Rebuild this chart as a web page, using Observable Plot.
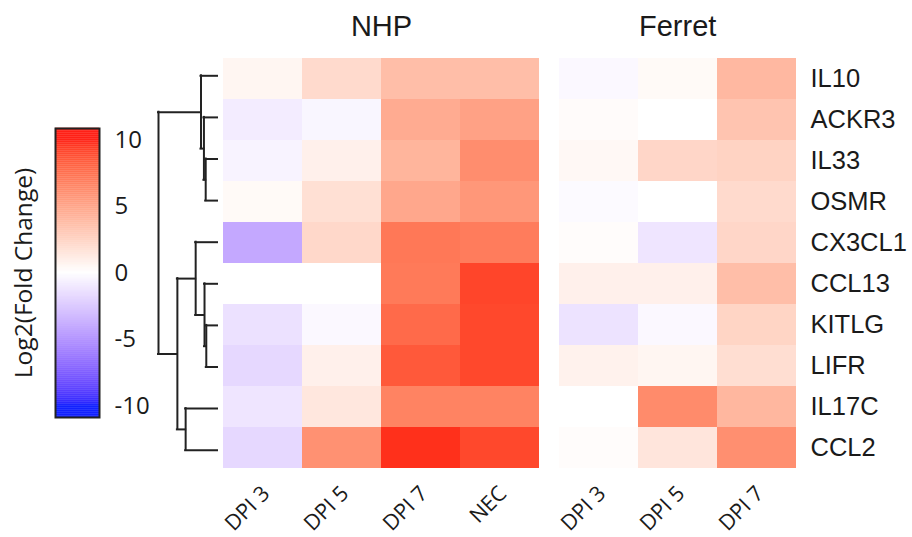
<!DOCTYPE html>
<html>
<head>
<meta charset="utf-8">
<script src="https://cdn.jsdelivr.net/npm/d3@7"></script>
<script src="https://cdn.jsdelivr.net/npm/@observablehq/plot@0.6"></script>
<style>
  html, body { margin: 0; padding: 0; background: #ffffff; }
  #chart { position: relative; width: 912px; height: 537px; background: #ffffff; overflow: hidden; }
  #chart > svg { position: absolute; left: 0; top: 0; }
</style>
</head>
<body>
<div id="chart"></div>
<script>
// ---- data ----
const genes = ["IL10","ACKR3","IL33","OSMR","CX3CL1","CCL13","KITLG","LIFR","IL17C","CCL2"];
const nhpCols = ["DPI 3","DPI 5","DPI 7","NEC"];
const ferretCols = ["DPI 3","DPI 5","DPI 7"];

// log2 fold change per column (rows in genes order)
const nhpDPI3 = [0.5, -0.8, -0.5, 0.3, -3.8, 0.0, -1.3, -1.7, -1.1, -1.7];
const nhpDPI5 = [2.0, -0.4, 0.8, 1.7, 2.1, 0.0, -0.3, 0.8, 1.3, 5.8];
const nhpDPI7 = [3.5, 4.5, 4.0, 4.7, 7.0, 6.9, 7.6, 8.3, 6.5, 9.6];
const nhpNEC  = [3.5, 5.0, 6.0, 5.5, 6.8, 9.0, 8.9, 8.9, 6.5, 8.9];

const ferretDPI3 = [-0.3, 0.2, 0.4, -0.2, 0.15, 0.8, -1.2, 0.7, 0.0, 0.15];
const ferretDPI5 = [0.3, 0.0, 2.2, 0.0, -1.1, 0.8, -0.3, 0.5, 6.1, 1.4];
const ferretDPI7 = [3.8, 3.2, 2.4, 2.0, 2.2, 3.5, 2.3, 1.8, 3.9, 5.9];

// dendrogram merges (clustering heights, root = 1)
const mergeIds    = ["m1","m2","m3","m4","m5","m6","m7","m8","root"];
const mergeLeft   = ["IL33","ACKR3","IL10","KITLG","CCL13","CX3CL1","IL17C","m6","m3"];
const mergeRight  = ["OSMR","m1","m2","LIFR","m4","m5","CCL2","m7","m8"];
const mergeHeight = [0.20, 0.23, 0.28, 0.19, 0.22, 0.37, 0.54, 0.68, 1.0];

const legendTicks = [-10, -5, 0, 5, 10];

// ---- shared settings ----
const W = 912, H = 537;
const gridTop = 54.5, gridBottom = 470.5;
const ink = "#1a1a1a";
const colorOpts = {
  type: "linear",
  domain: [-10, 0, 10],
  range: ["#0a1aff", "#ffffff", "#ff1a10"],
  interpolate: "lab",
  clamp: true
};
const baseStyle = { background: "transparent", fontFamily: "Liberation Sans, Arial, sans-serif", color: ink };

function tidy(cols, columns) {
  const out = [];
  cols.forEach((c, j) => genes.forEach((g, i) => out.push({ col: c, gene: g, v: columns[j][i] })));
  return out;
}

function panel(cols, columns, left, right, title, showLabels) {
  return Plot.plot({
    width: W, height: H,
    marginLeft: left, marginRight: W - right,
    marginTop: gridTop, marginBottom: H - gridBottom,
    style: baseStyle,
    x: { domain: cols, padding: 0, axis: null },
    y: { domain: genes, padding: 0, axis: null },
    color: colorOpts,
    marks: [
      Plot.cell(tidy(cols, columns), { x: "col", y: "gene", fill: "v", inset: 0 }),
      // column labels, rotated
      Plot.text(cols, { x: d => d, text: d => d, frameAnchor: "bottom", dx: 3, dy: 19, rotate: -45,
                        textAnchor: "end", lineAnchor: "middle", fontSize: 21.5,
                        fontFamily: "Open Sans", fill: ink }),
      // gene labels on the right
      showLabels ? Plot.text(genes, { y: d => d, text: d => d, frameAnchor: "right", dx: 14,
                        textAnchor: "start", lineAnchor: "middle", fontSize: 25.5, fill: ink }) : null,
      Plot.text([title], { text: d => d, frameAnchor: "top", dy: -28, lineAnchor: "middle",
                        textAnchor: "middle", fontSize: 29, fill: ink })
    ]
  });
}

const chart = document.getElementById("chart");

// NHP heatmap
chart.append(panel(nhpCols, [nhpDPI3, nhpDPI5, nhpDPI7, nhpNEC], 222.5, 539.5, "NHP", false));
// Ferret heatmap
chart.append(panel(ferretCols, [ferretDPI3, ferretDPI5, ferretDPI7], 558.3, 796, "Ferret", true));

// dendrogram
const pos = {};
genes.forEach((g, i) => { pos[g] = { y: i, h: 0 }; });
const vLinks = [], hLinks = [];
mergeIds.forEach((id, k) => {
  const a = pos[mergeLeft[k]], b = pos[mergeRight[k]], h = mergeHeight[k];
  vLinks.push({ x: h, y1: a.y, y2: b.y });
  hLinks.push({ y: a.y, x1: h, x2: a.h });
  hLinks.push({ y: b.y, x1: h, x2: b.h });
  pos[id] = { y: (a.y + b.y) / 2, h };
});
chart.append(Plot.plot({
  width: W, height: H,
  marginLeft: 158, marginRight: W - 217,
  marginTop: gridTop, marginBottom: H - gridBottom,
  style: baseStyle,
  x: { domain: [1, 0], axis: null },
  y: { domain: [-0.5, genes.length - 0.5], reverse: true, axis: null },
  marks: [
    Plot.ruleX(vLinks, { x: "x", y1: "y1", y2: "y2", stroke: "#222", strokeWidth: 2, strokeLinecap: "square" }),
    Plot.ruleY(hLinks, { y: "y", x1: "x1", x2: "x2", stroke: "#222", strokeWidth: 2, strokeLinecap: "square" })
  ]
}));

// colour legend
const step = 0.05;
const grad = d3.range(-10.85, 10.85, step);
chart.append(Plot.plot({
  width: W, height: H,
  marginLeft: 55, marginRight: W - 99,
  marginTop: 128, marginBottom: H - 417,
  style: baseStyle,
  x: { domain: [0, 1], axis: null },
  y: { domain: [-10.85, 10.85], axis: null },
  color: colorOpts,
  marks: [
    Plot.rect(grad, { x1: 0, x2: 1, y1: d => d, y2: d => d + step + 0.02, fill: d => d }),
    Plot.frame({ stroke: "#222", strokeWidth: 2 }),
    Plot.text(legendTicks, { y: d => d, text: d => String(d), frameAnchor: "right", dx: 15,
                 textAnchor: "start", lineAnchor: "middle", fontSize: 24,
                 fontFamily: "Open Sans", fill: ink }),
    Plot.text(["Log2(Fold Change)"], { text: d => d, frameAnchor: "left", rotate: -90, dx: -31,
                 textAnchor: "middle", lineAnchor: "middle",
                 fontSize: 24.5, fontFamily: "Open Sans", fill: ink })
  ]
}));
</script>
</body>
</html>
